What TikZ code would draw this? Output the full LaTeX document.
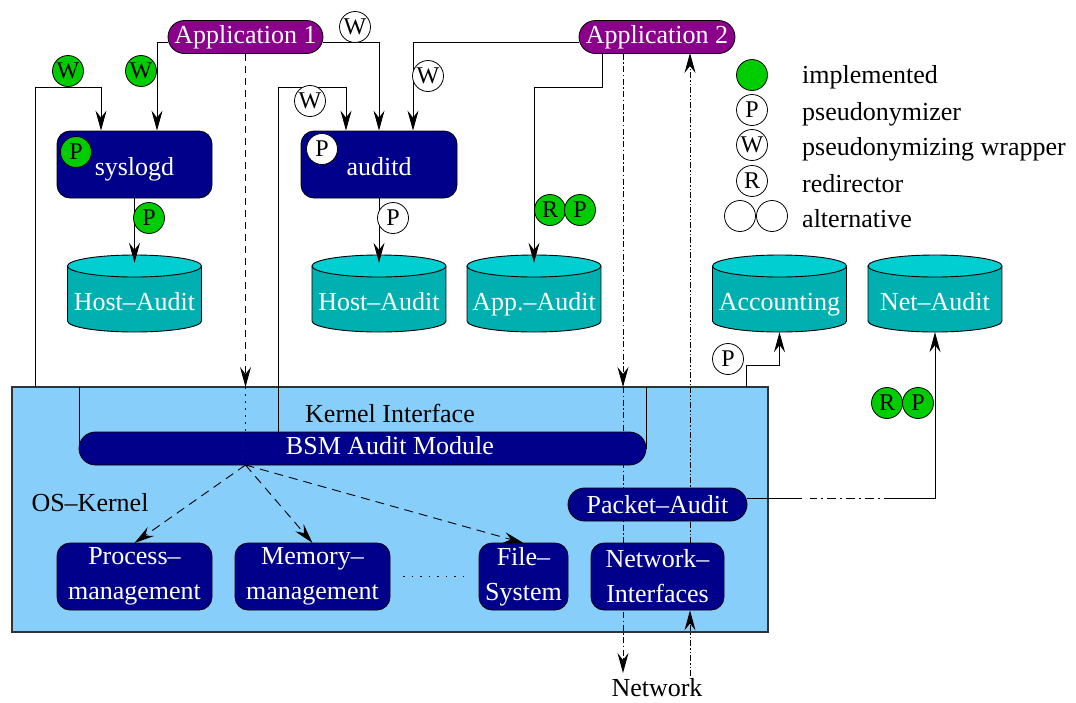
\documentclass[tikz,border=0pt]{standalone}
\usepackage{fontspec}
\setmainfont{Liberation Serif}
\usetikzlibrary{arrows.meta,calc}

\definecolor{appcol}{HTML}{8B008B}
\definecolor{boxcol}{HTML}{00008B}
\definecolor{cyltop}{HTML}{00CED1}
\definecolor{cylbody}{HTML}{00B0B0}
\definecolor{kerncol}{HTML}{87CEFA}
\definecolor{grn}{HTML}{00CD00}

\newcommand\txtsz{\fontsize{26}{35}\selectfont}
\newcommand\marksz{\fontsize{24}{24}\selectfont}

\tikzset{
  arr/.style={-{Stealth[length=20pt,width=11pt,inset=7pt]}},
  conn/.style={draw=black, line width=0.9pt},
  pill/.style={draw=black, line width=0.8pt, fill=boxcol, rounded corners=16.5pt,
    minimum height=33pt, inner sep=0pt, text=white, font=\txtsz},
  apppill/.style={pill, fill=appcol},
  procbox/.style={draw=black, line width=0.8pt, fill=boxcol, rounded corners=13pt,
    minimum height=67pt, inner sep=0pt, text=white, font=\txtsz, align=center},
  daemonbox/.style={procbox, text height=21pt, text depth=0pt},
  mk/.style={circle, draw=black, line width=0.8pt, fill=white, minimum size=31pt,
    inner sep=0pt, font=\marksz},
  gmk/.style={mk, fill=grn},
  cylanchor/.style={minimum width=134pt, minimum height=69pt, inner sep=0pt},
  cyltext/.style={text=white, font=\txtsz, inner sep=0pt, anchor=base},
  plain/.style={font=\txtsz, inner sep=0pt},
  dashline/.style={conn, dash pattern=on 7pt off 5pt},
  dotline/.style={conn, dash pattern=on 2pt off 5pt},
  dashdotline/.style={conn, dash pattern=on 6pt off 2.5pt on 1.5pt off 2.5pt},
  dashdotdotline/.style={conn, dash pattern=on 6pt off 2pt on 1.5pt off 2pt on 1.5pt off 2pt},
  kdash/.style={conn, dash pattern=on 9pt off 6pt},
}

% storage cylinder: name, centre x, label
\newcommand\storecyl[3]{%
  \fill[cylbody] (#2-67,266) rectangle (#2+67,321);
  \fill[cylbody] (#2,321) ellipse [x radius=67, y radius=11];
  \draw[conn] (#2-67,266) -- (#2-67,321)
    arc [start angle=180, end angle=0, x radius=67, y radius=11] -- (#2+67,266);
  \draw[conn, fill=cyltop] (#2,266) ellipse [x radius=67, y radius=11];
  \node[cylanchor] (#1) at (#2,297.5) {};
  \node[cyltext] (#1txt) at (#2,310) {#3};
}

\begin{document}
\begin{tikzpicture}[x=1pt,y=-1pt]
\useasboundingbox[fill=white] (0,0) rectangle (1076,702);

% ---------- kernel ----------
\node[draw=black!80, line width=1.2pt, fill=kerncol, minimum width=756pt,
  minimum height=245pt, inner sep=0pt] (kernel) at (390,509.5) {};
\node[plain] (kif) at (390,413) {Kernel Interface};
\node[plain] (oskernel) at (90,503) {OS--Kernel};

% lines running beneath the kernel components
\draw[dashdotline, arr] (623,387) -- (623,673);
\draw[dashdotdotline, arr] (690,543) -- (690,53);
\coordinate (hub) at (245.5,465);
\draw[kdash, arr] (hub) -- (134.5,543);
\draw[kdash, arr] (hub) -- (312.5,543);
\draw[kdash, arr] (hub) -- (523.5,543);
\draw[conn] (79,448.5) -- (79,387);
\draw[conn] (646,448.5) -- (646,387);

\node[pill, minimum width=567pt] (bsm) at (362.5,448.5) {};
\node[plain, text=white] (bsmtxt) at (390,446) {BSM Audit Module};
\node[pill, minimum width=179pt] (packet) at (657.5,504.5) {Packet--Audit};
\node[procbox, minimum width=155pt] (proc) at (134.5,576.5) {Process--\\management};
\node[procbox, minimum width=155pt] (mem) at (312.5,576.5) {Memory--\\management};
\node[procbox, minimum width=89pt] (fs) at (523.5,576.5) {File--\\System};
\node[procbox, minimum width=133pt] (nif) at (657.5,576.5) {Network--\\Interfaces};
\draw[conn, dash pattern=on 1.5pt off 7pt] ([xshift=13pt]mem.east) -- ([xshift=-12pt]fs.west);

\node[plain, anchor=base] (network) at (657,696) {Network};
\draw[dashdotdotline, arr] (690,676) -- (nif.south -| 690,0);

% ---------- applications and daemons ----------
\node[apppill, minimum width=155pt] (app1) at (245.5,37) {Application 1};
\node[apppill, minimum width=156pt] (app2) at (657,37) {Application 2};
\node[daemonbox, minimum width=155pt] (syslogd) at (134.5,164.5) {syslogd};
\node[daemonbox, minimum width=156pt] (auditd) at (379,164.5) {auditd};

\storecyl{ha1}{134.5}{Host--Audit}
\storecyl{ha2}{379}{Host--Audit}
\storecyl{appa}{534}{App.--Audit}
\storecyl{acc}{779.5}{Accounting}
\storecyl{neta}{935}{Net--Audit}

% ---------- connectors ----------
\draw[conn, arr] ([yshift=-5pt]app1.east) -| (auditd.north);
\draw[conn, arr] ([yshift=-5pt]app1.west) -| ([xshift=22.5pt]syslogd.north);
\draw[conn, arr] (35,387) -- (35,87) -| ([xshift=-33.5pt]syslogd.north);
\draw[conn, arr] (278,432) -- (278,87) -| ([xshift=-33pt]auditd.north);
\draw[conn, arr] ([yshift=-5pt]app2.west) -| ([xshift=34pt]auditd.north);
\draw[conn, arr] ([xshift=-55pt]app2.south) -- ++(0,34) -| (appa.north);
\draw[conn, arr] (syslogd.south) -- (ha1.north);
\draw[conn, arr] (auditd.south) -- (ha2.north);
\draw[conn, arr] (746,387) -- (746,365) -| (acc.south);
\draw[conn, arr, dash pattern=on 55pt off 8pt on 7pt off 4pt on 2pt off 4pt on 9pt off 4pt on 2pt off 4pt
  on 9pt off 4pt on 2pt off 4pt on 9pt off 4pt on 2pt off 4pt on 400pt off 0pt]
  ([yshift=6pt]packet.east) -| (neta.south);
\draw[dashline, arr] (app1.south) -- (245.5,387);
\draw[dotline] (245.5,387) -- (hub);
\draw[dashdotline, arr] ([xshift=-34pt]app2.south) -- (623,387);

% ---------- markers ----------
\node[mk] (w1) at (355,27) {W};
\node[gmk] (w2) at (141,71) {W};
\node[gmk] (w3) at (68,71) {W};
\node[gmk] (p1) at (76,152) {P};
\node[gmk] (p2) at (149,218) {P};
\node[mk] (p3) at (322,149) {P};
\node[mk] (w4) at (310,101) {W};
\node[mk] (w5) at (428,76) {W};
\node[mk] (p4) at (393,218) {P};
\node[gmk] (r1) at (550,210) {R};
\node[gmk] (p5) at (580,210) {P};
\node[mk] (p6) at (728,359) {P};
\node[gmk] (r2) at (887,403) {R};
\node[gmk] (p7) at (918,403) {P};

% ---------- legend ----------
\node[gmk] (lg1) at (752,75) {};
\node[mk] (lg2) at (752,110) {P};
\node[mk] (lg3) at (752,145) {W};
\node[mk] (lg4) at (752,181) {R};
\node[mk] (lg5a) at (740,216) {};
\node[mk] (lg5b) at (772,216) {};
\node[plain, anchor=base west] (lt1) at (802,83) {implemented};
\node[plain, anchor=base west] (lt2) at (802,120) {pseudonymizer};
\node[plain, anchor=base west] (lt3) at (802,155) {pseudonymizing wrapper};
\node[plain, anchor=base west] (lt4) at (802,192) {redirector};
\node[plain, anchor=base west] (lt5) at (802,227) {alternative};
\end{tikzpicture}
\end{document}
